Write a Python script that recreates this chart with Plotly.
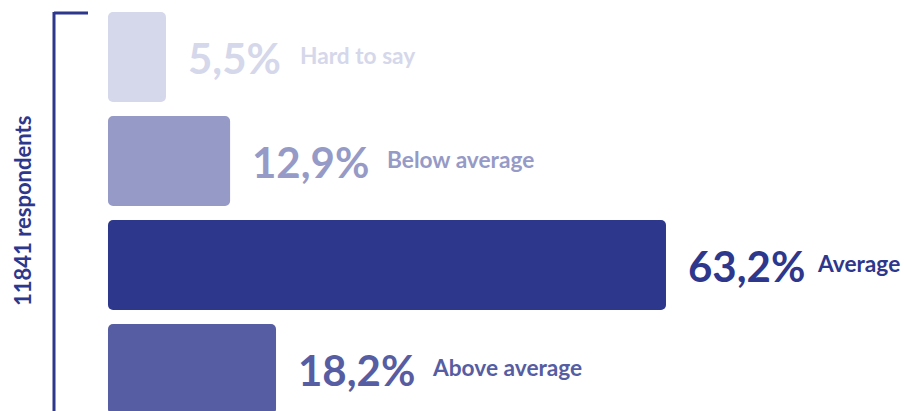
import plotly.graph_objects as go

# survey answers, top to bottom
categories = ["Hard to say", "Below average", "Average", "Above average"]
shares = [5.5, 12.9, 63.2, 18.2]
pct_labels = ["5,5%", "12,9%", "63,2%", "18,2%"]
colors = ["#d5d7ea", "#969ac6", "#2d378c", "#565da2"]
respondents = "11841 respondents"

W, H = 904, 411
PAD = 1.19  # bars start a little left of zero
NAVY = "#2d378c"
PCT_SIZE = 42
LBL_SIZE = 22.7
label_gaps = [21, 20, 14, 19]  # px between percentage and label

def text_width(s, size):
    w = 0
    for ch in s:
        if ch.isdigit():
            w += 0.58
        elif ch == ",":
            w += 0.25
        elif ch == "%":
            w += 0.85
        else:
            w += 0.5
    return w * size - 4

fig = go.Figure()
fig.add_trace(go.Bar(
    y=categories,
    x=[v + PAD for v in shares],
    base=[-PAD] * len(shares),
    orientation="h",
    marker=dict(color=colors, line=dict(width=0)),
    hoverinfo="skip",
))

annotations = []
for cat, v, pct, col, gap in zip(categories, shares, pct_labels, colors, label_gaps):
    annotations.append(dict(
        x=v, y=cat, xref="x", yref="y", text=pct, showarrow=False,
        xanchor="left", yanchor="middle", xshift=20, yshift=-1,
        font=dict(family="Lato", size=PCT_SIZE, color=col, weight="bold"),
    ))
    annotations.append(dict(
        x=v, y=cat, xref="x", yref="y", text=cat, showarrow=False,
        xanchor="left", yanchor="middle",
        xshift=20 + text_width(pct, PCT_SIZE) + gap, yshift=2,
        font=dict(family="Lato", size=LBL_SIZE, color=col, weight="bold"),
    ))

annotations.append(dict(
    x=22 / W, y=1 - 211 / H, xref="paper", yref="paper", text=respondents,
    showarrow=False, textangle=-90, xanchor="center", yanchor="middle",
    font=dict(family="Lato", size=22, color=NAVY, weight="bold"),
))

shapes = [
    dict(type="line", xref="paper", yref="paper",
         x0=54 / W, x1=54 / W, y0=1 - 12 / H, y1=0,
         line=dict(color=NAVY, width=3)),
    dict(type="line", xref="paper", yref="paper",
         x0=54 / W, x1=88 / W, y0=1 - 13 / H, y1=1 - 13 / H,
         line=dict(color=NAVY, width=3)),
]

px_per_unit = 8.666
x0 = -(118.3 / px_per_unit)
x1 = x0 + W / px_per_unit

fig.update_layout(
    width=W, height=H,
    margin=dict(l=0, r=0, t=0, b=0),
    paper_bgcolor="white", plot_bgcolor="white",
    showlegend=False,
    bargap=14 / 104,
    barcornerradius=5,
    xaxis=dict(range=[x0, x1], autorange=False, visible=False, fixedrange=True),
    yaxis=dict(categoryorder="array", categoryarray=categories,
               range=[(H - 57) / 104, -57 / 104], autorange=False,
               visible=False, fixedrange=True),
    annotations=annotations,
    shapes=shapes,
)

fig.write_html("out.html", config={"displayModeBar": False},
               post_script="document.body.style.margin='0px';")
